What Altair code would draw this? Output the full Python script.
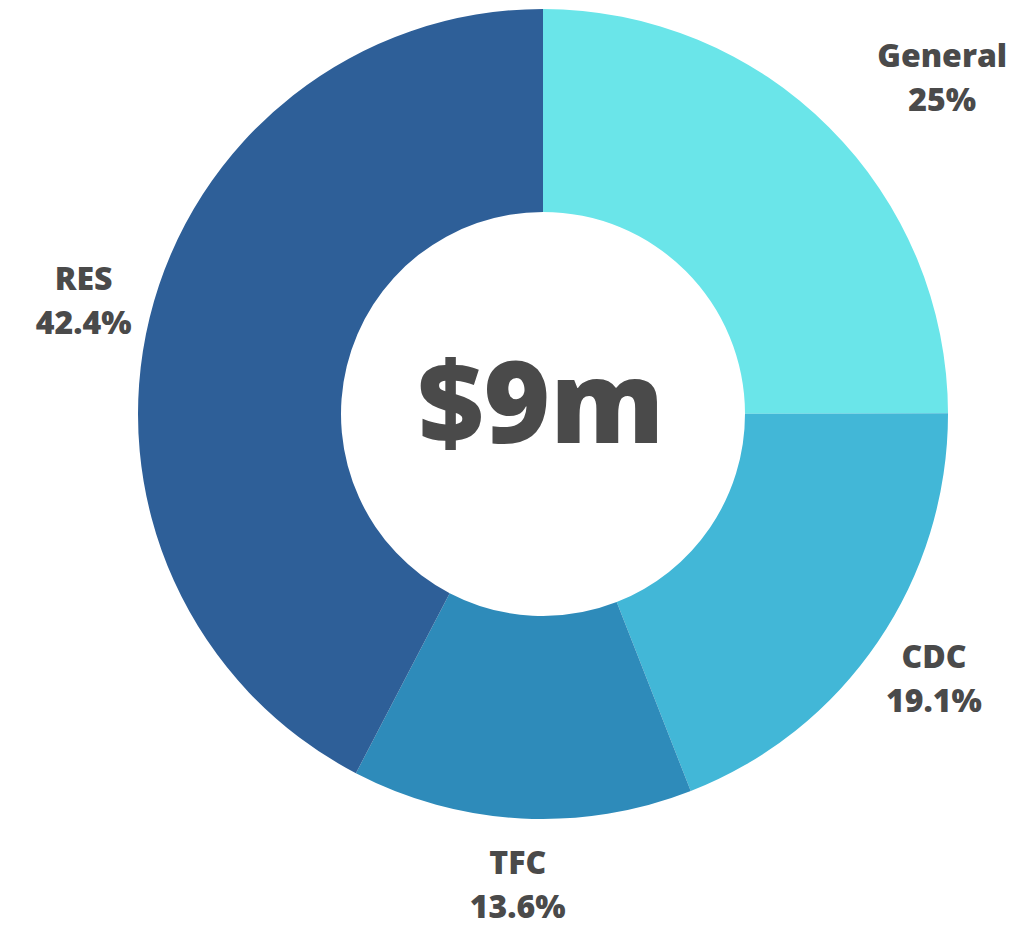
import altair as alt
import pandas as pd

categories = ["General", "CDC", "TFC", "RES"]
values = [25, 19.1, 13.6, 42.4]
colors = ["#6ae5e9", "#42b7d7", "#2e8bba", "#2e5f98"]
center_label = "$9m"

df = pd.DataFrame({"category": categories, "value": values, "order": list(range(len(categories)))})

CX, CY = 535, 406
FONT = "Open Sans"
TXT = "#4a4a4a"

base = alt.Chart(df).transform_joinaggregate(
    total="sum(value)"
).transform_window(
    cum="sum(value)", sort=[alt.SortField("order")], frame=[None, 0]
).transform_calculate(
    t1="(datum.cum - datum.value) / datum.total * 2 * PI",
    t2="datum.cum / datum.total * 2 * PI",
    mid="(datum.cum - datum.value / 2) / datum.total * 2 * PI",
    pct="datum.value + '%'",
)

arcs = base.mark_arc(innerRadius=202, outerRadius=405, stroke=None).encode(
    x=alt.value(CX),
    y=alt.value(CY),
    theta=alt.Theta("t1:Q", scale=None),
    theta2="t2:Q",
    color=alt.Color("category:N", scale=alt.Scale(domain=categories, range=colors), legend=None),
)

text_style = dict(font=FONT, fontSize=32, fontWeight=800, color=TXT,
                  align="center", baseline="middle", radius=473)


def label_layer(filter_expr, field, dy, dx=0):
    return base.transform_filter(filter_expr).mark_text(dx=dx, dy=dy, **text_style).encode(
        x=alt.value(CX), y=alt.value(CY),
        theta=alt.Theta("mid:Q", scale=None),
        text=f"{field}:N",
    )


others = "datum.category != 'General'"
general = "datum.category == 'General'"
layers = [
    label_layer(others, "category", -22),
    label_layer(others, "pct", 22),
    label_layer(general, "category", -22, dx=65),
    label_layer(general, "pct", 22, dx=65),
]

center = alt.Chart(pd.DataFrame({"t": [center_label]})).mark_text(
    font=FONT, fontSize=114, fontWeight=800, color=TXT, align="center", baseline="alphabetic"
).encode(x=alt.value(533), y=alt.value(435), text="t:N")

chart = alt.layer(arcs, *layers, center).properties(
    width=1019, height=916, padding=0, autosize=alt.AutoSizeParams(type="none")
).configure_view(stroke=None)

chart.save("out.html", embed_options={"renderer": "svg", "actions": False})
